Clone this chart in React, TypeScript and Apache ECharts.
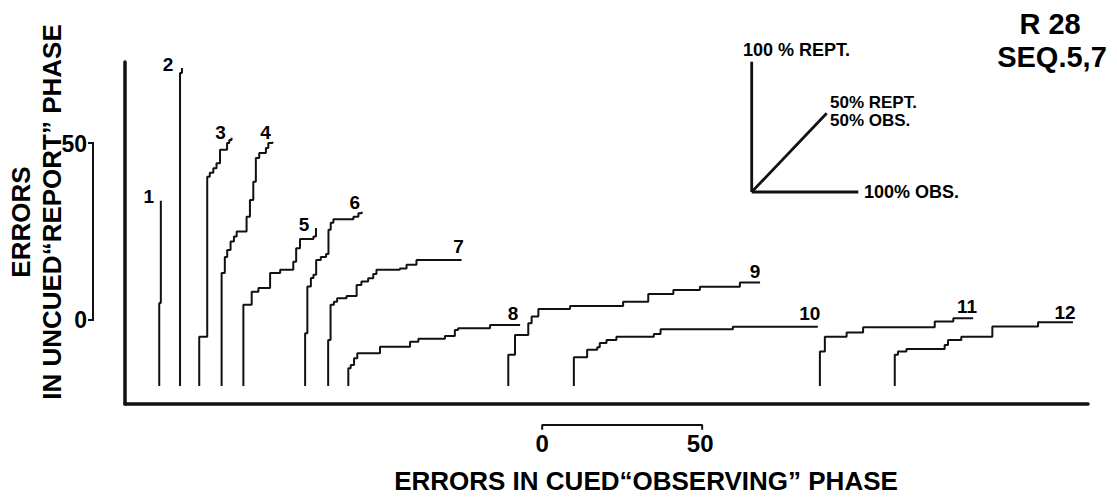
import React, { useEffect, useRef } from "react";
import * as echarts from "echarts";

// ---- data (error units: cumulative observing errors, cumulative report errors) ----
const curveNames = ["1", "2", "3", "4", "5", "6", "7", "8", "9", "10", "11", "12"];
// horizontal start of each record along the observing-error axis
const curveOffsets = [10.7, 17.2, 23.2, 30.2, 37.0, 56.3, 63.5, 69.8, 119.8, 140.3, 217.2, 240.6];

// each pair: [cumulative observing errors, cumulative report errors reached]
const curve1 = [[0, 23.4], [0.5, 52.3]];
const curve2 = [[0, 88.4], [0.6, 89.8]];
const curve3 = [[0, 13.9], [2.5, 59.1], [3.3, 60.2], [4.4, 61.5], [5.4, 62.9], [6.5, 66.7], [8.7, 68.6], [9.4, 69.5], [10.1, 70.1]];
const curve4 = [[0, 31.9], [1.0, 36.4], [1.75, 38.4], [2.8, 40.8], [3.85, 42.2], [4.7, 43.6], [7.8, 47.8], [8.85, 52.5], [9.9, 57.7], [10.7, 64.4], [11.75, 65.8], [13.85, 67.2], [14.6, 68.6], [15.9, 69.0]];
const curve5 = [[0, 22.9], [2.6, 26.6], [4.7, 27.7], [8.35, 31.9], [11.5, 32.8], [15.6, 35.1], [16.5, 38.9], [17.7, 41.5], [21.9, 42.2], [22.7, 44.6]];
const curve6 = [[0, 14.9], [0.7, 28.1], [1.8, 30.5], [2.6, 31.4], [3.45, 35.6], [4.9, 36.4], [6.55, 37.3], [7.3, 44.1], [8.0, 46.1], [8.85, 47.1], [15.1, 47.8], [16.65, 48.8], [17.7, 49.2]];
const curve7 = [[0, 13.0], [0.75, 22.9], [1.8, 23.8], [2.8, 24.8], [5.75, 25.4], [8.9, 28.5], [10.4, 29.5], [12.5, 30.4], [14.1, 31.6], [15.1, 32.8], [22.4, 33.2], [24.5, 34.2], [27.6, 35.6], [41.7, 35.6]];
const curve8 = [[0, 5.0], [0.75, 5.9], [1.8, 7.8], [2.8, 9.2], [9.9, 11.1], [19.3, 12.5], [21.9, 13.3], [30.2, 14.1], [33.3, 15.8], [34.3, 16.3], [44.3, 17.2], [53.7, 17.2]];
const curve9 = [[0, 8.8], [2.1, 14.4], [6.25, 17.7], [7.3, 19.6], [9.4, 21.7], [19.3, 22.6], [35.9, 23.8], [43.75, 26.0], [51.6, 27.1], [59.9, 28.0], [72.4, 29.2], [78.7, 29.2]];
const curve10 = [[0, 8.1], [4.15, 10.2], [7.3, 10.9], [8.1, 12.1], [10.2, 13.0], [13.3, 13.9], [25.0, 14.7], [27.1, 16.0], [49.7, 16.7], [76.25, 16.7]];
const curve11 = [[0, 9.7], [1.55, 13.9], [8.35, 15.1], [13.5, 16.6], [35.9, 18.2], [41.7, 19.1], [47.9, 19.1]];
const curve12 = [[0, 8.8], [1.0, 9.7], [3.65, 10.4], [15.6, 11.6], [16.65, 13.0], [20.8, 13.9], [30.5, 16.8], [44.8, 18.0], [55.7, 18.0]];
const curves = [curve1, curve2, curve3, curve4, curve5, curve6, curve7, curve8, curve9, curve10, curve11, curve12];

// scale bars (50 errors each)
const scaleTickLabels = ["0", "50"];
const scaleLength = 50;
const xScaleStart = 130.4; // observing-error position of the bar's "0" end
const xScaleLevel = -11.0;
const yScaleStart = 18.6; // report-error position of the bar's "0" end
const yScaleLevel = -10.0;

// ---- styling ----
const FONT = "'Liberation Sans', Arial, Helvetica, sans-serif";
const INK = "#111";
const labelOffsets = [[-12, -4], [-14, -4], [-11, -5], [-7, -9], [-12, -4], [-7, -9], [-3, -13], [-7, -12], [-5, -11], [-8, -13], [-6, -12], [-8, -10]];

function buildSteps(pairs: number[][], off: number) {
  const pts: number[][] = [];
  let prev = 0;
  pairs.forEach(([x, h], i) => {
    pts.push([off + x, i === 0 ? 0 : prev]);
    pts.push([off + x, h]);
    prev = h;
  });
  return pts;
}

export default function App() {
  const ref = useRef<HTMLDivElement>(null);
  useEffect(() => {
    if (!ref.current) return;
    const chart = echarts.init(ref.current, undefined, { renderer: "svg" });

    const curveSeries = curves.map((pairs, k) => {
      const pts = buildSteps(pairs, curveOffsets[k]);
      return {
        type: "line",
        name: "record " + curveNames[k],
        silent: true,
        symbol: "circle",
        symbolSize: 0,
        showSymbol: true,
        lineStyle: { color: INK, width: 2 },
        itemStyle: { color: INK },
        emphasis: { disabled: true },
        data: pts.map((p, i) =>
          i === pts.length - 1
            ? {
                value: p,
                label: {
                  show: true,
                  formatter: curveNames[k],
                  position: "inside",
                  offset: labelOffsets[k],
                  fontFamily: FONT,
                  fontWeight: "bold",
                  fontSize: 19,
                  color: "#000",
                },
              }
            : p
        ),
      };
    });

    const scaleLabel = (text: string, offset: number[], size: number) => ({
      show: true,
      formatter: text,
      position: "inside",
      offset,
      fontFamily: FONT,
      fontWeight: "bold",
      fontSize: size,
      color: "#000",
    });

    const xScaleSeries = {
      type: "line",
      silent: true,
      clip: false,
      symbol: "circle",
      symbolSize: 0,
      lineStyle: { color: INK, width: 2 },
      itemStyle: { color: INK },
      emphasis: { disabled: true },
      data: [
        { value: [xScaleStart, xScaleLevel - 1.4], label: scaleLabel(scaleTickLabels[0], [0, 14], 24) },
        [xScaleStart, xScaleLevel],
        [xScaleStart + scaleLength, xScaleLevel],
        { value: [xScaleStart + scaleLength, xScaleLevel - 1.4], label: scaleLabel(scaleTickLabels[1], [-2, 14], 24) },
      ],
    };

    chart.setOption({
      animation: false,
      backgroundColor: "#fff",
      grid: { left: 125, right: 29, top: 62, bottom: 94 },
      xAxis: {
        type: "value",
        min: 0,
        max: 301,
        axisLine: { show: true, onZero: false, lineStyle: { color: INK, width: 3.5 } },
        axisTick: { show: false },
        axisLabel: { show: false },
        splitLine: { show: false },
      },
      yAxis: {
        type: "value",
        min: -5.1,
        max: 91.5,
        axisLine: { show: true, onZero: false, lineStyle: { color: INK, width: 3.5 } },
        axisTick: { show: false },
        axisLabel: { show: false },
        splitLine: { show: false },
      },
      series: [...curveSeries, xScaleSeries],
    });

    const txt = (text: string, x: number, y: number, size: number, align = "left", rotation = 0) => ({
      type: "text",
      x,
      y,
      rotation,
      silent: true,
      style: {
        text,
        fill: "#000",
        font: `bold ${size}px ${FONT}`,
        textAlign: align,
        textVerticalAlign: "middle",
      },
    });
    const ln = (x1: number, y1: number, x2: number, y2: number) => ({
      type: "line",
      silent: true,
      shape: { x1, y1, x2, y2 },
      style: { stroke: INK, lineWidth: 2.8 },
    });

    // vertical scale bar, placed through the chart's own scales
    const px = (x: number, y: number) => chart.convertToPixel({ gridIndex: 0 }, [x, y]) as number[];
    const yb0 = px(yScaleLevel, yScaleStart);
    const yb1 = px(yScaleLevel, yScaleStart + scaleLength);
    const tick = 5;

    chart.setOption({
      graphic: [
        {
          type: "polyline",
          silent: true,
          shape: {
            points: [
              [yb0[0] - tick, yb0[1]],
              yb0,
              yb1,
              [yb1[0] - tick, yb1[1]],
            ],
          },
          style: { stroke: INK, lineWidth: 2, fill: null },
        },
        txt(scaleTickLabels[0], yb0[0] - tick - 1, yb0[1], 23, "right"),
        txt(scaleTickLabels[1], yb1[0] - tick - 1, yb1[1] + 1, 23, "right"),
        // key
        ln(751.7, 61.7, 751.7, 192),
        ln(751.7, 192, 858.3, 192),
        ln(751.7, 192, 826.7, 113.3),
        txt("100 % REPT.", 743, 50, 18),
        txt("50% REPT.", 830, 102.5, 17),
        txt("50% OBS.", 830, 120, 17),
        txt("100% OBS.", 864, 191.5, 18),
        // identification
        txt("R 28", 1050, 24, 29, "center"),
        txt("SEQ.5,7", 1052, 57, 29, "center"),
        // axis titles
        txt("ERRORS IN CUED\u201COBSERVING\u201D PHASE", 646, 481, 26, "center"),
        txt("ERRORS", 21, 222, 26, "center", Math.PI / 2),
        txt("IN UNCUED\u201CREPORT\u201D PHASE", 52, 212, 26, "center", Math.PI / 2),
      ],
    });
    return () => chart.dispose();
  }, []);

  return (
    <div
      ref={ref}
      style={{ position: "fixed", left: 0, top: 0, width: 1117, height: 498, background: "#fff" }}
    />
  );
}
